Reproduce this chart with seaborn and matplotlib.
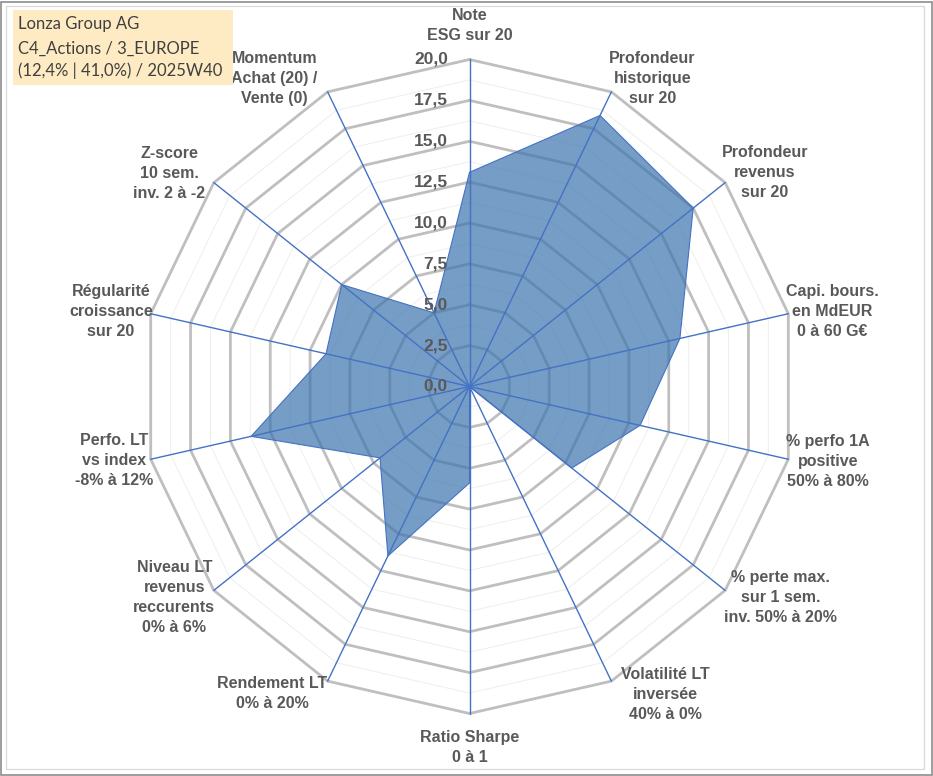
import numpy as np
import matplotlib
matplotlib.use('Agg')
import matplotlib.pyplot as plt
import seaborn as sns
from matplotlib.patches import Rectangle

# ── Données ────────────────────────────────────────────────────────────────
CATEGORIES = [
    'Note\nESG sur 20',
    'Profondeur\nhistorique\nsur 20',
    'Profondeur\nrevenus\nsur 20',
    'Capi. bours.\nen MdEUR\n0 à 60 G€',
    '% perfo 1A\npositive\n50% à 80%',
    '% perte max.\nsur 1 sem.\ninv. 50% à 20%',
    'Volatilité LT\ninversée\n40% à 0%',
    'Ratio Sharpe\n0 à 1',
    'Rendement LT\n0% à 20%',
    'Niveau LT\nrevenus\nreccurents\n0% à 6%',
    'Perfo. LT\nvs index\n-8% à 12%',
    'Régularité\ncroissance\nsur 20',
    'Z-score\n10 sem.\ninv. 2 à -2',
    'Momentum\nAchat (20) /\nVente (0)',
]
SCORES = [13.1, 18.4, 17.5, 13.2, 10.7, 8.0, 0.0, 5.9, 11.5, 7.0, 13.7, 9.0, 10.0, 5.0]

RING_TICKS = [0.0, 2.5, 5.0, 7.5, 10.0, 12.5, 15.0, 17.5, 20.0]
TICK_LABELS = ['0,0', '2,5', '5,0', '7,5', '10,0', '12,5', '15,0', '17,5', '20,0']

TITLE_LINES = ['Lonza Group AG', 'C4_Actions / 3_EUROPE', '(12,4% | 41,0%) / 2025W40']

# ── Placement des étiquettes (décalage angulaire en degrés, rayon) ─────────
LABEL_SHIFT = [0, 5.0, 2.7, 1.1, -1.0, -4.4, -6.7, 0, 7.0, 3.0, 1.1, -1.0, -3.2, -6.6]
LABEL_RADIUS = [22.1, 21.9, 22.3, 22.65, 22.4, 23.0, 22.3, 22.1, 22.3, 22.2, 22.2, 22.4, 22.5, 22.3]

W, H = 933, 776

sns.set_theme(style='white')
plt.rcParams['font.family'] = ['Liberation Sans', 'DejaVu Sans']

fig = plt.figure(figsize=(W / 100, H / 100), dpi=100)
fig.patch.set_facecolor('white')

# cadre du graphique (style Excel)
fig.add_artist(Rectangle((1 / W, 1.5 / H), 930.5 / W, 773 / H, transform=fig.transFigure,
                         fill=False, edgecolor='#8C8C8C', lw=1.2))
fig.add_artist(Rectangle((6 / W, 7 / H), 918 / W, 763 / H, transform=fig.transFigure,
                         fill=False, edgecolor='#D9D9D9', lw=0.9))

# ── Radar ──────────────────────────────────────────────────────────────────
cx, cy, R = 469.5, 386.5, 327.0
ax = fig.add_axes([(cx - R) / W, (H - cy - R) / H, 2 * R / W, 2 * R / H], projection='polar')
ax.set_theta_zero_location('N')
ax.set_theta_direction(-1)
ax.set_ylim(0, 20)
ax.grid(False)
ax.spines['polar'].set_visible(False)
ax.set_xticks([])
ax.set_yticks([])
ax.set_facecolor('none')

n = len(CATEGORIES)
theta = np.linspace(0, 2 * np.pi, n, endpoint=False)
theta_c = np.append(theta, 2 * np.pi)

# anneaux polygonaux (majeurs + mineurs)
for r in np.arange(1.25, 20.01, 1.25):
    major = abs(r / 2.5 - round(r / 2.5)) < 1e-9
    ax.plot(theta_c, np.full(n + 1, r),
            color='#BFBFBF' if major else '#EEEEEE',
            lw=2.0 if major else 0.7, zorder=1, clip_on=False)

# surface des scores
vals_c = np.append(SCORES, SCORES[0])
ax.fill(theta_c, vals_c, color='#3B74AE', alpha=0.7, lw=0, zorder=3)
sns.lineplot(x=theta_c, y=vals_c, sort=False, estimator=None, color='#4472C4',
             lw=0.8, ax=ax, zorder=3.5)

# rayons
for t in theta:
    ax.plot([t, t], [0, 20], color='#4472C4', lw=1.0, zorder=4, clip_on=False)

# graduations
for v, lab in zip(RING_TICKS, TICK_LABELS):
    ax.annotate(lab, xy=(0, v), xytext=(-15.5, 0), textcoords='offset points',
                ha='right', va='center', fontsize=12.5, fontweight='bold',
                color='#595959', zorder=5, annotation_clip=False)

# étiquettes des axes
for t, lab, dt, rr in zip(theta, CATEGORIES, LABEL_SHIFT, LABEL_RADIUS):
    ax.text(t + np.deg2rad(dt), rr, lab, ha='center', va='center',
            multialignment='center', fontsize=11.5, fontweight='bold',
            color='#595959', linespacing=1.42, clip_on=False)

# ── Cartouche titre ────────────────────────────────────────────────────────
fig.add_artist(Rectangle((13 / W, 1 - 85 / H), 220 / W, 75 / H, transform=fig.transFigure,
                         facecolor='#FEEBC3', edgecolor='none'))
for yy, line in zip([24, 49, 71], TITLE_LINES):
    fig.text(18 / W, 1 - yy / H, line, ha='left', va='center', fontsize=12,
             family=['Lato', 'DejaVu Sans'], color='#404040')

fig.savefig('out.png', dpi=100, facecolor='white')
